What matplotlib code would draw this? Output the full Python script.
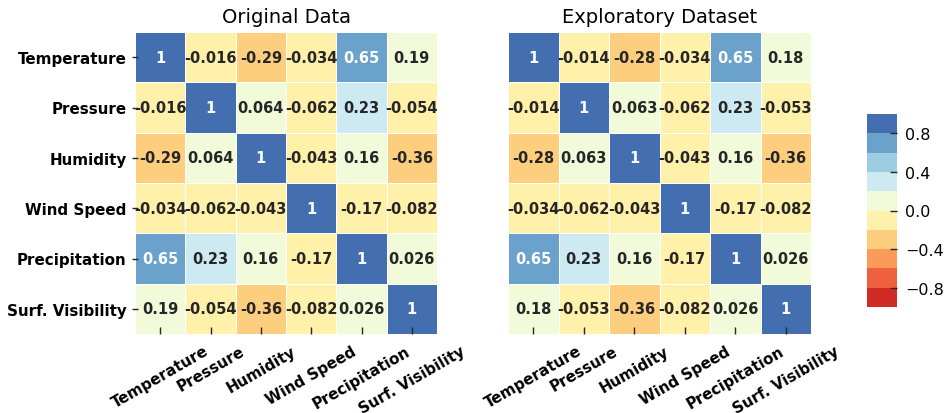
import numpy as np
import matplotlib
matplotlib.use("Agg")
import matplotlib.pyplot as plt
from matplotlib.colors import ListedColormap, Normalize


#-------------------------------
# CORRELATION MATRICES
#-------------------------------
# weather variables, original vs exploratory subset

plt.rcParams["font.family"] = ["DejaVu Sans"]

variables = ["Temperature", "Pressure", "Humidity", "Wind Speed",
             "Precipitation", "Surf. Visibility"]

corr_original = [
    [1, -0.016, -0.29, -0.034, 0.65, 0.19],
    [-0.016, 1, 0.064, -0.062, 0.23, -0.054],
    [-0.29, 0.064, 1, -0.043, 0.16, -0.36],
    [-0.034, -0.062, -0.043, 1, -0.17, -0.082],
    [0.65, 0.23, 0.16, -0.17, 1, 0.026],
    [0.19, -0.054, -0.36, -0.082, 0.026, 1],
]

corr_explore = [
    [1, -0.014, -0.28, -0.034, 0.65, 0.18],
    [-0.014, 1, 0.063, -0.062, 0.23, -0.053],
    [-0.28, 0.063, 1, -0.043, 0.16, -0.36],
    [-0.034, -0.062, -0.043, 1, -0.17, -0.082],
    [0.65, 0.23, 0.16, -0.17, 1, 0.026],
    [0.18, -0.053, -0.36, -0.082, 0.026, 1],
]

titles = ["Original Data", "Exploratory Dataset"]
cbar_ticks = [-0.8, -0.4, 0.0, 0.4, 0.8]

# 10 discrete colours taken from RdYlBu
n_colors = 10
base = plt.get_cmap("RdYlBu")
cmap = ListedColormap(base(np.linspace(0, 1, n_colors + 2)[1:-1]))
norm = Normalize(vmin=-1, vmax=1)


def text_color(rgba):
	# dark text on light cells, white on dark ones
	rgb = np.array(rgba[:3])
	rgb = np.where(rgb <= 0.03928, rgb / 12.92, ((rgb + 0.055) / 1.055) ** 2.4)
	lum = 0.2126 * rgb[0] + 0.7152 * rgb[1] + 0.0722 * rgb[2]
	return "#262626" if lum > 0.408 else "white"


def draw_heatmap(ax, data, title, show_ylabels):
	data = np.array(data, dtype=float)
	n = data.shape[0]
	mesh = ax.pcolormesh(data, cmap=cmap, norm=norm,
	                     edgecolors="white", linewidth=0.6)
	ax.set_xlim(0, n)
	ax.set_ylim(n, 0)
	for i in range(n):
		for j in range(n):
			val = data[i, j]
			ax.text(j + 0.5, i + 0.5, "{:.2g}".format(val),
			        ha="center", va="center", fontsize=10.5,
			        fontweight="bold", color=text_color(cmap(norm(val))))
	for s in ax.spines.values():
		s.set_visible(False)
	ax.set_xticks(np.arange(n) + 0.5)
	ax.set_xticklabels(variables, rotation=30, ha="center",
	                   fontsize=10.9, fontweight="bold")
	ax.tick_params(axis="x", direction="in", length=5, width=1,
	               color="#262626", pad=6.5)
	if show_ylabels:
		ax.set_yticks(np.arange(n) + 0.5)
		ax.set_yticklabels(variables, fontsize=10.9, fontweight="bold")
		ax.tick_params(axis="y", direction="inout", length=5, width=1,
		               color="#262626", pad=3.5)
	else:
		ax.set_yticks([])
	ax.set_title(title, fontsize=14, pad=7)
	return mesh


fig = plt.figure(figsize=(9.46, 4.14), dpi=100)
W, H = 946.0, 414.0
ax1 = fig.add_axes([135 / W, (H - 335) / H, 302 / W, 302 / H])
ax2 = fig.add_axes([508 / W, (H - 335) / H, 303 / W, 302 / H])
cax = fig.add_axes([867 / W, (H - 308) / H, 30 / W, 193 / H])

mesh = draw_heatmap(ax1, corr_original, titles[0], True)
draw_heatmap(ax2, corr_explore, titles[1], False)

cb = fig.colorbar(mesh, cax=cax, ticks=cbar_ticks)
cb.outline.set_visible(False)
cb.minorticks_off()
cb.ax.tick_params(direction="in", length=5, width=1, color="#262626",
                  labelsize=11.5, pad=6)

fig.savefig("out.png", dpi=100)
